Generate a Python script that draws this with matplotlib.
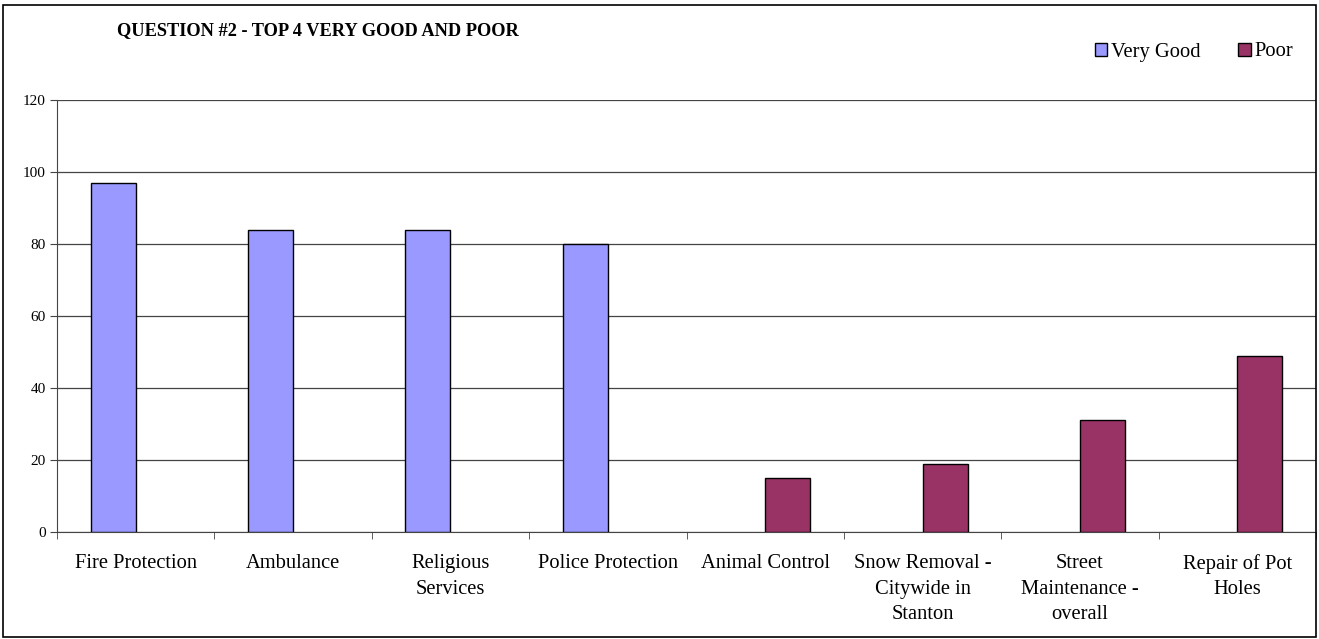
import numpy as np
import matplotlib.pyplot as plt
from matplotlib.patches import Rectangle

# data
categories = ['Fire Protection', 'Ambulance', 'Religious\nServices', 'Police Protection',
              'Animal Control', 'Snow Removal -\nCitywide in\nStanton',
              'Street\nMaintenance -\noverall', 'Repair of Pot\nHoles']
very_good = [97, 84, 84, 80, np.nan, np.nan, np.nan, np.nan]
poor = [np.nan, np.nan, np.nan, np.nan, 15, 19, 31, 49]
y_ticks = [0, 20, 40, 60, 80, 100, 120]

plt.rcParams['font.family'] = ['Liberation Serif', 'DejaVu Serif']

fig = plt.figure(figsize=(13.19, 6.39), dpi=100)
ax = fig.add_axes([57 / 1319, 1 - 532 / 639, (1316 - 57) / 1319, (532 - 100) / 639])

x = np.arange(len(categories))
w = 45 / 157.4
ax.bar(x - w / 2, very_good, w, color='#9999FF', edgecolor='black', linewidth=1.0,
       label='Very Good', zorder=3)
ax.bar(x + w / 2, poor, w, color='#993366', edgecolor='black', linewidth=1.0,
       label='Poor', zorder=3)

ax.set_xlim(-0.5, len(categories) - 0.5)
ax.set_ylim(0, 120)
ax.set_yticks(y_ticks)
ax.tick_params(axis='y', labelsize=11, length=5, color='#444444', pad=3)
ax.yaxis.grid(True, color='#444444', linewidth=0.9, zorder=0)

# category labels sit at centres, tick marks at boundaries
ax.set_xticks(x)
ax.set_xticklabels(categories, fontsize=14.8, linespacing=1.45, va='top')
ax.tick_params(axis='x', length=0, pad=16)
ax.set_xticks(np.arange(len(categories) + 1) - 0.5, minor=True)
ax.tick_params(axis='x', which='minor', length=5, color='#444444')

for s in ['top', 'right']:
    ax.spines[s].set_visible(False)
ax.spines['left'].set_color('#444444')
ax.spines['bottom'].set_color('#444444')

fig.text(117 / 1319, 1 - 31 / 639, 'QUESTION #2 - TOP 4 VERY GOOD AND POOR',
         fontsize=13.2, fontweight='bold', va='center', ha='left')

ax.legend(loc='center left', bbox_to_anchor=(1076 / 1319, 1 - 52 / 639),
          bbox_transform=fig.transFigure, ncol=2, frameon=False, fontsize=14.8,
          handlelength=0.6, handleheight=0.6, handletextpad=0.2, columnspacing=1.85)

fig.patches.append(Rectangle((3 / 1319, 2 / 639), 1313 / 1319, 632 / 639,
                             transform=fig.transFigure, fill=False,
                             edgecolor='black', linewidth=1.2))

fig.savefig('out.png', dpi=100)
